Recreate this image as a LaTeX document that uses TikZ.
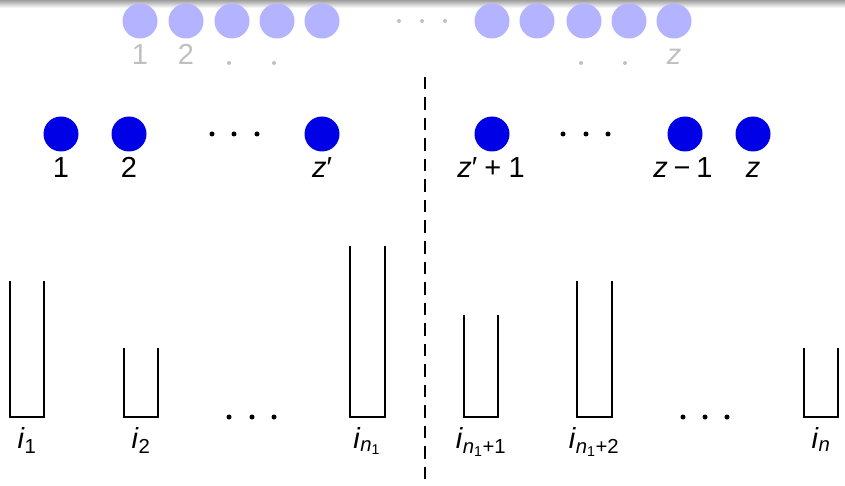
\documentclass[tikz,border=0pt]{standalone}
\usepackage{fontspec}
\setmainfont{Liberation Sans}
\definecolor{fadeblue}{HTML}{B3B3FF}
\definecolor{fadegray}{HTML}{C0C0C0}
\definecolor{mainblue}{HTML}{0000E6}
\begin{document}
\begin{tikzpicture}[x=1pt,y=-1pt,
  ball/.style={circle,fill=mainblue,minimum size=35pt,inner sep=0pt},
  fball/.style={circle,fill=fadeblue,minimum size=35pt,inner sep=0pt},
  lab/.style={anchor=base,inner sep=0pt,font=\fontsize{29}{34}\selectfont},
  flab/.style={lab,text=fadegray},
  dotk/.style={circle,fill=black,minimum size=5pt,inner sep=0pt},
  dotg/.style={circle,fill=fadegray,minimum size=4pt,inner sep=0pt},
  bucket/.style={line width=2pt,line cap=rect}]
\useasboundingbox (0,0) rectangle (845,486);
\shade[top color=gray!75, bottom color=white] (0,0) rectangle (845,8);
% faded top row
\foreach \i/\x in {1/140,2/186,3/232,4/277,5/322,6/492,7/537,8/584,9/629,10/674}
  \node[fball] (t\i) at (\x,21) {};
\foreach \i/\x in {1/399,2/422,3/445} \node[dotg] (td\i) at (\x,21) {};
\node[flab] (tl1) at (140,65) {1};
\node[flab] (tl2) at (186,65) {2};
\node[flab] (tlz) at (674,65) {\textit{z}};
\foreach \i/\x in {1/229,2/274,3/581,4/625} \node[dotg] (tld\i) at (\x,63) {};
% divider
\coordinate (dtop) at (424.5,77);
\coordinate (dbot) at (424.5,486);
\draw[line width=2pt,dash pattern=on 12.5pt off 8pt] (dtop) -- (dbot);
% main circles
\node[ball] (c1) at (61,134) {};
\node[ball] (c2) at (129,134) {};
\node[ball] (czp) at (322,134) {};
\node[ball] (czp1) at (492,134) {};
\node[ball] (czm1) at (685,134) {};
\node[ball] (cz) at (753,134) {};
\foreach \i/\x in {1/212,2/234,3/257,4/563,5/586,6/608} \node[dotk] (cd\i) at (\x,134) {};
\node[lab] (l1) at (61,178) {1};
\node[lab] (l2) at (129,178) {2};
\node[lab] (lzp) at (322,178) {\textit{z}′};
\node[lab] (lzp1) at (491,178) {\textit{z}′\hspace{0.25em}+\hspace{0.25em}1};
\node[lab] (lzm1) at (683,178) {\textit{z}\hspace{0.2em}−\hspace{0.2em}1};
\node[lab] (lz) at (753,178) {\textit{z}};
% buckets
\foreach \n/\a/\b/\t in {b1/10/44/282, b2/124/158/349, bn1/350/385/247, bp1/464/498/316, bp2/577/612/282, bn/804/838/349}
  \draw[bucket] (\a,\t) -- (\a,417) -- (\b,417) -- (\b,\t);
\foreach \i/\x in {1/229,2/252,3/274,4/683,5/705,6/727} \node[dotk] (bd\i) at (\x,417) {};
\node[lab] (il1) at (27,448) {\textit{i}\textsubscript{1}};
\node[lab] (il2) at (141,448) {\textit{i}\textsubscript{2}};
\node[lab] (iln1) at (367,448) {\textit{i}\textsubscript{\textit{n}\textsubscript{1}}};
\node[lab] (ilp1) at (481,448) {\textit{i}\textsubscript{\textit{n}\textsubscript{1}+1}};
\node[lab] (ilp2) at (594,448) {\textit{i}\textsubscript{\textit{n}\textsubscript{1}+2}};
\node[lab] (iln) at (821,448) {\textit{i}\textsubscript{\textit{n}}};
\end{tikzpicture}
\end{document}
